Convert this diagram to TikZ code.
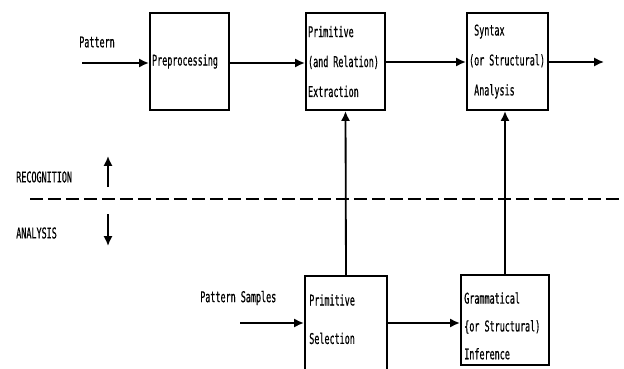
\documentclass[tikz,border=0pt]{standalone}
\usepackage{fontspec}
\newfontfamily\typefont{DejaVu Sans Mono}[FakeStretch=0.57,FakeBold=0.6]
\usetikzlibrary{arrows.meta,positioning}

\begin{document}
\begin{tikzpicture}[x=0.025cm,y=-0.025cm]
\tikzset{block/.style = {shape=rectangle,draw,line width=1.5pt,inner xsep=1.5pt,inner ysep=0pt,align=left,font=\typefont\fontsize{10.5}{21.3}\selectfont}}
\tikzset{edge/.style = {-{Latex[length=7pt,width=6.5pt]},line width=1.3pt}}
\tikzset{tag/.style = {inner sep=0pt,align=left,font=\typefont\fontsize{10.5}{21.3}\selectfont}}
\clip (0,0) rectangle (624,368);
% upper row
\node[block,text width=53.2pt,minimum height=69pt] (pre) at (189.5,61.5) {Preprocessing};
\node[block,text width=53.2pt,minimum height=69pt] (ext) at (345.5,61.5) {Primitive\\(and Relation)\\Extraction};
\node[block,text width=54.6pt,minimum height=69pt] (syn) at (507.5,61.5) {\hphantom{(}Syntax\\(or Structural)\\\hphantom{(}Analysis};
% lower row
\node[block,minimum width=58.3pt,minimum height=74pt] (sel) at (346,328) {};
\node[tag,anchor=north west] (seltext) at (309,294) {Primitive\\[6pt]Selection};
\node[block,minimum width=62.6pt,minimum height=64pt] (gram) at (505,320) {};
\node[tag,anchor=north west] (gramtext) at (464,292) {Grammatical\\[-1.5pt]\{or Structural)\\[-1.5pt]Inference};
% labels
\node[tag,anchor=west] (pat) at (79,42) {Pattern};
\node[tag,anchor=west] (samples) at (200,298) {Pattern Samples};
\node[tag,anchor=west] (rec) at (16,177) {RECOGNITION};
\node[tag,anchor=west] (ana) at (16,233) {ANALYSIS};
\coordinate (in) at (82,63);
\coordinate (out) at (604,62);
\coordinate (smp) at (240,323);
\coordinate (dl) at (30,199);
\coordinate (dr) at (620,199);
\coordinate (up0) at (108,187);
\coordinate (up1) at (108,156);
\coordinate (dn0) at (108,214);
\coordinate (dn1) at (108,246);
% connectors
\draw[edge] (in) -- (in -| pre.west);
\draw[edge] (in -| pre.east) -- (in -| ext.west);
\draw[edge] (out -| ext.east) -- (out -| syn.west);
\draw[edge] (out -| syn.east) -- (out);
\draw[edge] (smp) -- (smp -| sel.west);
\draw[edge] (smp -| sel.east) -- (smp -| gram.west);
\draw[edge] (sel.north) -- (ext.south);
\draw[edge] (gram.north) -- (gram.north |- syn.south);
\draw[line width=1.3pt,dash pattern=on 9.2pt off 3.6pt] (dl) -- (dr);
\draw[edge] (up0) -- (up1);
\draw[edge] (dn0) -- (dn1);
\end{tikzpicture}
\end{document}
